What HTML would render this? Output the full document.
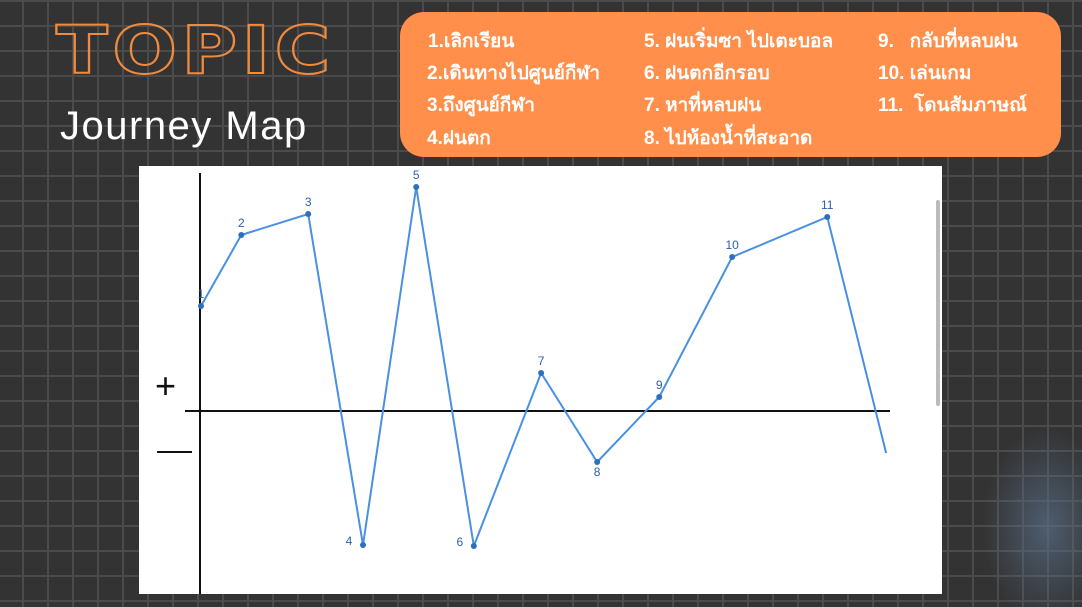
<!DOCTYPE html>
<html><head><meta charset="utf-8"><style>
html,body{margin:0;width:1082px;height:607px;overflow:hidden}
body{background:#333;font-family:"Liberation Sans",sans-serif;position:relative}
.grid{position:absolute;inset:0;background-image:linear-gradient(#4b4b4b 2px,transparent 2px),linear-gradient(90deg,#4b4b4b 2px,transparent 2px);background-size:25px 25px;background-position:-3px 0px}
.glow{position:absolute;right:-30px;bottom:-20px;width:130px;height:200px;background:radial-gradient(rgba(90,111,136,0.7),transparent 70%)}
.topic{position:absolute;left:56px;top:12px;font-size:66px;font-weight:bold;letter-spacing:4px;color:transparent;-webkit-text-stroke:2px #f08a3e;font-family:"DejaVu Sans",sans-serif;transform:scaleX(1.15);transform-origin:left top}
.jm{position:absolute;left:60px;top:104px;font-size:40px;letter-spacing:1.5px;color:#fff}
.box{position:absolute;left:400px;top:12px;width:661px;height:145px;background:#ff8f4a;border-radius:24px;color:#fff;font-size:19px;font-weight:bold}
.box span{position:absolute;white-space:nowrap}
</style></head><body>
<div class="grid"></div>
<div class="glow"></div>
<div class="topic">TOPIC</div>
<div class="jm">Journey Map</div>
<div class="box">
<span style="left:28px;top:14px">1.เลิกเรียน</span>
<span style="left:27px;top:46px">2.เดินทางไปศูนย์กีฬา</span>
<span style="left:27px;top:78px">3.ถึงศูนย์กีฬา</span>
<span style="left:27px;top:111px">4.ฝนตก</span>
<span style="left:244px;top:14px">5. ฝนเริ่มซา ไปเตะบอล</span>
<span style="left:244px;top:46px">6. ฝนตกอีกรอบ</span>
<span style="left:244px;top:78px">7. หาที่หลบฝน</span>
<span style="left:244px;top:111px">8. ไปห้องน้ำที่สะอาด</span>
<span style="left:478px;top:14px">9.&nbsp;&nbsp; กลับที่หลบฝน</span>
<span style="left:478px;top:46px">10. เล่นเกม</span>
<span style="left:478px;top:78px">11.&nbsp; โดนสัมภาษณ์</span>
</div>
<svg id="chart" width="1082" height="607" style="position:absolute;left:0;top:0">
<rect x="139" y="166" width="803" height="428" fill="#fff"/>
<rect x="936" y="200" width="4" height="206" rx="2" fill="#bbb"/>
<line x1="200" y1="173" x2="200" y2="594" stroke="#111" stroke-width="2"/>
<line x1="185" y1="411" x2="890" y2="411" stroke="#111" stroke-width="2"/>
<text x="155" y="398" font-size="36" fill="#111">+</text>
<line x1="157" y1="452" x2="192" y2="452" stroke="#111" stroke-width="2"/>
<g id="marks"></g>
</svg>
<script>
const labels=["1","2","3","4","5","6","7","8","9","10","11",""];
const steps=[0,1,2.66,4.02,5.34,6.77,8.44,9.83,11.37,13.18,15.54,17];
const values=[10.5,17.6,19.7,-13.4,22.4,-13.5,3.8,-5.1,1.4,15.4,19.4,-4.2];
const xs=s=>201+s*40.3;
const ys=v=>411-v*10;
const g=document.getElementById('marks');
const ns='http://www.w3.org/2000/svg';
const pl=document.createElementNS(ns,'polyline');
pl.setAttribute('points',values.map((v,i)=>xs(steps[i])+','+ys(v)).join(' '));
pl.setAttribute('fill','none');pl.setAttribute('stroke','#4a90e2');pl.setAttribute('stroke-width','2');


g.appendChild(pl);
values.forEach((v,i)=>{
 if(!labels[i])return;
 const c=document.createElementNS(ns,'circle');
 c.setAttribute('cx',xs(steps[i]));c.setAttribute('cy',ys(v));c.setAttribute('r',3);c.setAttribute('fill','#2f6fc0');
 
 
 g.appendChild(c);
 const t=document.createElementNS(ns,'text');
 const neg=v<0;
 t.setAttribute('x',xs(steps[i])+(neg&&i<6?-14:0));t.setAttribute('y',neg?ys(v)+(i<6?0:14):ys(v)-8);
 t.setAttribute('font-size','12');t.setAttribute('fill','#2f5fa8');t.setAttribute('text-anchor','middle');
 t.textContent=labels[i];
 
 
 g.appendChild(t);
});
</script>
</body></html>
